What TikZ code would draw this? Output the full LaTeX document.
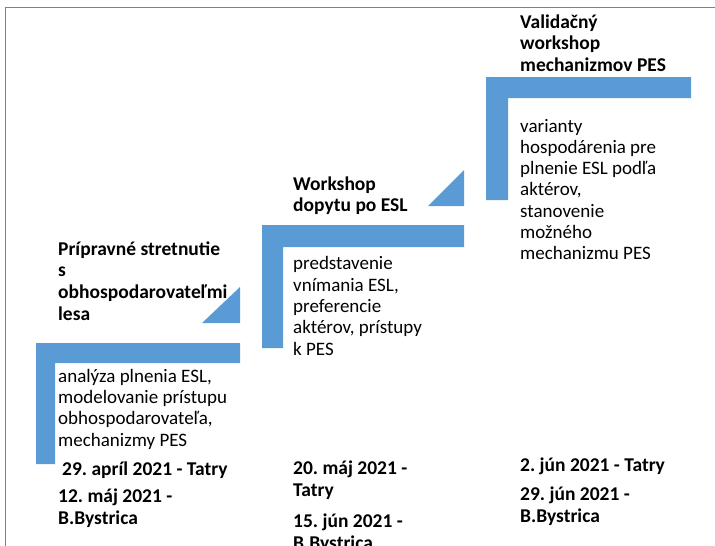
\documentclass[tikz,border=0pt]{standalone}
\usepackage{fontspec}
\setmainfont{Carlito}
\usepackage{tikz}
\definecolor{stepblue}{RGB}{91,155,213}
\definecolor{framegray}{RGB}{128,128,128}
\frenchspacing

\begin{document}
\begin{tikzpicture}[x=1pt,y=-1pt]
			\tikzset{bar/.style={fill=stepblue}}
			% multi-line nodes sit on the baseline of their last line
			\tikzset{heading/.style={anchor=base west, align=left, inner sep=0pt, font=\fontsize{19.5}{21.8}\selectfont\bfseries}}
			\tikzset{body/.style={anchor=base west, align=left, inner sep=0pt, font=\fontsize{19}{21.3}\selectfont}}
			\tikzset{datum/.style={anchor=base west, align=left, inner sep=0pt, font=\fontsize{19.5}{22.5}\selectfont\bfseries}}
			\useasboundingbox (0,0) rectangle (715,546);
			%frame
			\draw[framegray, line width=1.5pt] (5.5,546) -- (5.5,7.5) -- (715,7.5);
			%steps
			\fill[bar] (36,343) -- (240,343) -- (240,363) -- (55,363) -- (55,464) -- (36,464) -- cycle;
			\fill[bar] (202,323) -- (240,323) -- (240,287) -- cycle;
			\fill[bar] (262,225) -- (464,225) -- (464,247) -- (283,247) -- (283,348) -- (262,348) -- cycle;
			\fill[bar] (428,206) -- (464,206) -- (464,170) -- cycle;
			\fill[bar] (486,77) -- (691,77) -- (691,98) -- (508,98) -- (508,200) -- (486,200) -- cycle;
			%first step
			\node[heading] (head1) at (58,320.4) {Prípravné stretnutie\\s\\obhospodarovateľmi\\lesa};
			\node[body] (body1) at (58,446) {analýza plnenia ESL,\\modelovanie prístupu\\obhospodarovateľa,\\mechanizmy PES};
			\node[datum] (tatry1) at (62,475) {29. apríl 2021 - Tatry};
			\node[datum] (bb1) at (58,524.5) {12. máj 2021 -\\B.Bystrica};
			%second step
			\node[heading] (head2) at (293,211.8) {Workshop\\dopytu po ESL};
			\node[body] (body2) at (293,355) {predstavenie\\vnímania ESL,\\preferencie\\aktérov, prístupy\\k PES};
			\node[datum] (tatry2) at (293,496.5) {20. máj 2021 -\\Tatry};
			\node[datum] (bb2) at (293,549.5) {15. jún 2021 -\\B.Bystrica};
			%third step
			\node[heading] (head3) at (520,71.6) {Validačný\\workshop\\mechanizmov PES};
			\node[body] (body3) at (520,259.8) {varianty\\hospodárenia pre\\plnenie ESL podľa\\aktérov,\\stanovenie\\možného\\mechanizmu PES};
			\node[datum] (tatry3) at (520,471) {2. jún 2021 - Tatry};
			\node[datum] (bb3) at (520,522.5) {29. jún 2021 -\\B.Bystrica};
\end{tikzpicture}
\end{document}
